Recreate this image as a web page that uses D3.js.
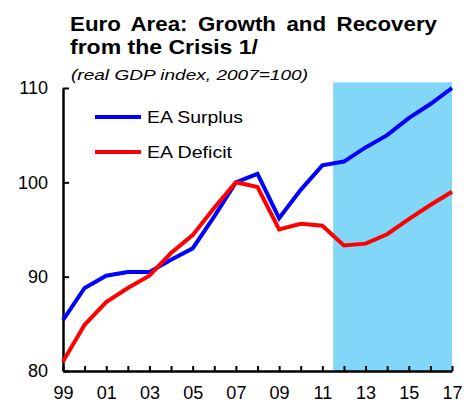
<!DOCTYPE html>
<meta charset="utf-8">
<style>
    body { margin: 0; background: #fff; }
    text { font-family: "Liberation Sans", Arial, sans-serif; fill: #000; }
    .title { font-size: 21px; font-weight: bold; }
    .subtitle { font-size: 15.5px; font-style: italic; }
    .tick text { font-size: 18px; }
    .legend text { font-size: 17px; }
</style>
<script src="https://d3js.org/d3.v7.min.js"></script>
<svg width="469" height="404"></svg>
<script>
    // real GDP index, 2007=100
    var years = [1999, 2000, 2001, 2002, 2003, 2004, 2005, 2006, 2007, 2008,
                 2009, 2010, 2011, 2012, 2013, 2014, 2015, 2016, 2017];
    var surplus = [85.4, 88.8, 90.1, 90.5, 90.5, 91.8, 93.0, 96.4, 100.0, 100.9,
                   96.2, 99.2, 101.8, 102.2, 103.7, 105.0, 106.8, 108.3, 110.0];
    var deficit = [81.0, 84.9, 87.3, 88.8, 90.1, 92.5, 94.4, 97.3, 100.0, 99.5,
                   95.0, 95.6, 95.4, 93.3, 93.5, 94.5, 96.1, 97.6, 99.0];
    var yTicks = [80, 90, 100, 110];
    var xLabels = [1999, 2001, 2003, 2005, 2007, 2009, 2011, 2013, 2015, 2017];
    var shadeFrom = 2011.5, shadeTo = 2017, shadeTop = 110.6;

    var svg = d3.select("svg");
    var x = d3.scaleLinear().domain([1999, 2017]).range([63, 452]);
    var y = d3.scaleLinear().domain([80, 110]).range([371, 88]);

    // projection shading
    svg.append("rect")
        .attr("x", x(shadeFrom))
        .attr("y", y(shadeTop))
        .attr("width", x(shadeTo) - x(shadeFrom))
        .attr("height", y(80) - y(shadeTop))
        .attr("fill", "#82d6f7");

    // title (glyphs a bit wider than Liberation, so stretch to the measured width)
    svg.append("text").attr("class", "title").attr("x", 70).attr("y", 31)
        .attr("textLength", 367).attr("lengthAdjust", "spacingAndGlyphs")
        .style("word-spacing", "4px")
        .text("Euro Area:  Growth and Recovery");
    svg.append("text").attr("class", "title").attr("x", 70).attr("y", 54)
        .attr("textLength", 188).attr("lengthAdjust", "spacingAndGlyphs")
        .text("from the Crisis 1/");
    svg.append("text").attr("class", "subtitle").attr("x", 71).attr("y", 80)
        .attr("textLength", 237).attr("lengthAdjust", "spacingAndGlyphs")
        .text("(real GDP index, 2007=100)");

    // y axis
    var yAxis = d3.axisLeft(y).tickValues(yTicks).tickSizeInner(-6).tickSizeOuter(0).tickPadding(15);
    var gy = svg.append("g").attr("transform", "translate(63,0)").call(yAxis);
    gy.select(".domain").attr("stroke-width", 2.5);
    gy.selectAll(".tick line").attr("stroke-width", 2);

    // x axis
    var xAxis = d3.axisBottom(x).tickValues(years).tickSizeInner(-5).tickSizeOuter(0)
        .tickFormat(function (d) {
            return xLabels.indexOf(d) >= 0 ? d3.format("02d")(d % 100) : "";
        });
    var gx = svg.append("g").attr("transform", "translate(0,371)").call(xAxis);
    gx.select(".domain").attr("stroke-width", 2.5);
    gx.selectAll(".tick line").attr("stroke-width", 2);
    gx.selectAll(".tick text").attr("y", 28).attr("dy", null);

    var line = d3.line()
        .x(function (d, i) { return x(years[i]); })
        .y(function (d) { return y(d); });

    svg.append("path").datum(surplus).attr("d", line)
        .attr("fill", "none").attr("stroke", "#0000ff").attr("stroke-width", 4);
    svg.append("path").datum(deficit).attr("d", line)
        .attr("fill", "none").attr("stroke", "#ff0000").attr("stroke-width", 4);

    // legend
    var legend = svg.append("g").attr("class", "legend");
    var items = [["EA Surplus", "#0000ff", 117, 96], ["EA Deficit", "#ff0000", 152, 85]];
    items.forEach(function (it) {
        legend.append("line").attr("x1", 95).attr("x2", 141)
            .attr("y1", it[2]).attr("y2", it[2])
            .attr("stroke", it[1]).attr("stroke-width", 4);
        legend.append("text").attr("x", 147).attr("y", it[2] + 6)
            .attr("textLength", it[3]).attr("lengthAdjust", "spacingAndGlyphs")
            .text(it[0]);
    });
</script>
